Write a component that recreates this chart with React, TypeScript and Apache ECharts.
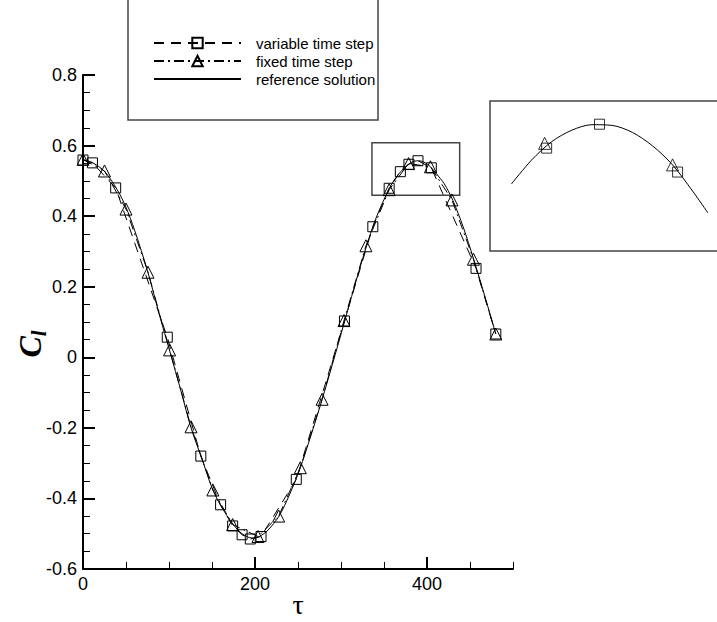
import React, { useEffect, useRef } from 'react';
import * as echarts from 'echarts';

// reference solution (solid line)
const refTau = [0, 10, 25, 40, 50, 60, 75, 90, 100, 115, 125, 140, 150, 160, 175, 185, 196, 205, 215, 228, 240, 252, 265, 278, 290, 304, 315, 329, 340, 356, 364, 368, 372, 376, 380, 384, 388, 392, 396, 400, 404, 408, 411, 420, 430, 442, 454, 467, 480];
const refCl = [0.560, 0.553, 0.527, 0.474, 0.425, 0.360, 0.245, 0.110, 0.025, -0.105, -0.195, -0.300, -0.370, -0.420, -0.475, -0.500, -0.512, -0.508, -0.490, -0.450, -0.390, -0.318, -0.222, -0.120, -0.020, 0.100, 0.195, 0.310, 0.390, 0.478, 0.510, 0.522, 0.532, 0.542, 0.5497, 0.5545, 0.5568, 0.5565, 0.5536, 0.548, 0.540, 0.529, 0.520, 0.492, 0.445, 0.370, 0.280, 0.175, 0.066];

// variable time step (squares, dashed)
const varTau = [0, 11, 38, 98, 137, 160, 174, 185, 194.5, 207, 248, 304, 337, 356, 369, 379, 389.5, 405, 457, 480];
const varCl = [0.559, 0.551, 0.480, 0.057, -0.280, -0.418, -0.478, -0.503, -0.515, -0.508, -0.346, 0.103, 0.370, 0.479, 0.526, 0.547, 0.557, 0.537, 0.252, 0.066];

// fixed time step (triangles, dash-dot)
const fixTau = [0, 25, 50, 75.6, 100.7, 125.6, 151, 174, 203.5, 227.5, 252.7, 278, 303.5, 329, 356, 378.6, 404, 429, 454, 480];
const fixCl = [0.561, 0.528, 0.420, 0.241, 0.021, -0.197, -0.376, -0.474, -0.508, -0.450, -0.313, -0.119, 0.104, 0.316, 0.475, 0.549, 0.540, 0.446, 0.278, 0.066];

const xMajorTicks = [0, 200, 400];
const seriesNames = ['variable time step', 'fixed time step', 'reference solution'];

// zoom window marked on main plot, and the range shown in the inset
const zoomBoxTau = [336, 438];
const zoomBoxCl = [0.459, 0.608];
const insetTauRange = [372, 411];
const insetXExtent = [367.75, 416.6];
const insetYExtent = [0.504, 0.5667];

const zip = (xs: number[], ys: number[]) => xs.map((x, i) => [x, ys[i]]);
const inInset = (p: number[]) => p[0] >= insetTauRange[0] && p[0] <= insetTauRange[1];

const SANS = "'Liberation Sans', Arial, sans-serif";
const SERIF = "'Liberation Serif', 'Times New Roman', serif";

export default function App() {
  const ref = useRef<HTMLDivElement>(null);
  useEffect(() => {
    if (!ref.current) return;
    const chart = echarts.init(ref.current, undefined, { renderer: 'svg' });
    const hollow = { color: 'rgba(0,0,0,0)', borderColor: '#000', borderWidth: 1 };
    const option: any = {
      animation: false,
      textStyle: { fontFamily: SANS, color: '#000' },
      grid: [
        { left: 83, top: 75, width: 430, height: 494, show: false, containLabel: false, outerBoundsMode: 'none' },
        { left: 490, top: 101, width: 246, height: 150, show: true, containLabel: false, outerBoundsMode: 'none', borderColor: '#444', borderWidth: 1.5, backgroundColor: 'rgba(0,0,0,0)' },
      ],
      legend: {
        data: [
          { name: seriesNames[0] },
          { name: seriesNames[1] },
          { name: seriesNames[2], itemStyle: { color: 'rgba(0,0,0,0)', borderWidth: 0, opacity: 0 } },
        ],
        orient: 'vertical',
        left: 153,
        top: 34,
        padding: 0,
        itemGap: 0,
        itemWidth: 87,
        itemHeight: 13,
        textStyle: { fontFamily: SANS, fontSize: 15, lineHeight: 18, color: '#000', padding: [0, 0, 0, 10] },
      },
      graphic: [
        { type: 'rect', shape: { x: 128, y: -10, width: 250, height: 130 }, style: { fill: 'none', stroke: '#444', lineWidth: 1.5 }, silent: true },
      ],
      xAxis: [
        {
          gridIndex: 0, type: 'value', min: 0, max: 500, interval: 50,
          axisLine: { show: true, onZero: false, lineStyle: { color: '#000', width: 2 } },
          axisTick: { show: true, inside: true, length: 7, lineStyle: { color: '#000', width: 1 } },
          axisLabel: { show: false },
          splitLine: { show: false },
        },
        {
          gridIndex: 0, type: 'value', position: 'bottom', min: 0, max: 500, interval: 200,
          axisLine: { show: false, onZero: false },
          axisTick: { show: true, inside: true, length: 12, customValues: xMajorTicks, lineStyle: { color: '#000', width: 2 } },
          axisLabel: { show: true, customValues: xMajorTicks, fontSize: 18, margin: 6, color: '#000', fontFamily: SANS },
          splitLine: { show: false },
          name: 'τ', nameLocation: 'middle', nameGap: 20, nameMoveOverlap: false,
          nameTextStyle: { fontFamily: SERIF, fontSize: 28, lineHeight: 30, color: '#000' },
        },
        { gridIndex: 1, type: 'value', min: insetXExtent[0], max: insetXExtent[1], show: false, splitLine: { show: false } },
      ],
      yAxis: [
        {
          gridIndex: 0, type: 'value', min: -0.6, max: 0.8, interval: 0.2,
          axisLine: { show: true, onZero: false, lineStyle: { color: '#000', width: 2 } },
          axisTick: { show: true, inside: true, length: 12, lineStyle: { color: '#000', width: 2 } },
          minorTick: { show: true, splitNumber: 4, length: 7, lineStyle: { color: '#000', width: 1 } },
          axisLabel: { fontSize: 18, margin: 6, color: '#000', fontFamily: SANS },
          splitLine: { show: false },
          name: '{c|C}{l|l}', nameLocation: 'middle', nameGap: 34, nameRotate: 90, nameMoveOverlap: false,
          nameTextStyle: {
            padding: [0, 44, 0, 0],
            rich: {
              c: { fontFamily: SERIF, fontStyle: 'italic', fontWeight: 'bold', fontSize: 32, lineHeight: 38, color: '#000', verticalAlign: 'middle' },
              l: { fontFamily: SERIF, fontStyle: 'italic', fontWeight: 'bold', fontSize: 21, lineHeight: 38, color: '#000', verticalAlign: 'bottom', padding: [14, 0, 0, 0] },
            },
          },
        },
        { gridIndex: 1, type: 'value', min: insetYExtent[0], max: insetYExtent[1], show: false, splitLine: { show: false } },
      ],
      series: [
        {
          name: seriesNames[2], type: 'line', xAxisIndex: 0, yAxisIndex: 0,
          data: zip(refTau, refCl), symbol: 'none', showSymbol: false, smooth: 0.3,
          lineStyle: { color: '#000', width: 1 }, itemStyle: { color: '#000' }, z: 2,
          markArea: {
            silent: true,
            label: { show: false },
            itemStyle: { color: 'rgba(0,0,0,0)', borderColor: '#444', borderWidth: 1.5 },
            data: [[{ coord: [zoomBoxTau[0], zoomBoxCl[1]] }, { coord: [zoomBoxTau[1], zoomBoxCl[0]] }]],
          },
        },
        {
          name: seriesNames[0], type: 'line', xAxisIndex: 0, yAxisIndex: 0,
          data: zip(varTau, varCl), symbol: 'rect', symbolSize: 10, showSymbol: true,
          lineStyle: { color: '#000', width: 1, type: [10, 7] }, itemStyle: hollow, z: 3,
        },
        {
          name: seriesNames[1], type: 'line', xAxisIndex: 0, yAxisIndex: 0,
          data: zip(fixTau, fixCl), symbol: 'triangle', symbolSize: 12, showSymbol: true,
          lineStyle: { color: '#000', width: 1, type: [10, 4, 2, 4] }, itemStyle: hollow, z: 3,
        },
        {
          name: 'inset reference', type: 'line', xAxisIndex: 2, yAxisIndex: 1,
          data: zip(refTau, refCl).filter(inInset), symbol: 'none', showSymbol: false, smooth: 0.3,
          lineStyle: { color: '#000', width: 1 },
        },
        {
          name: 'inset variable', type: 'scatter', xAxisIndex: 2, yAxisIndex: 1,
          data: zip(varTau, varCl).filter(inInset), symbol: 'rect', symbolSize: 10, itemStyle: hollow,
        },
        {
          name: 'inset fixed', type: 'scatter', xAxisIndex: 2, yAxisIndex: 1,
          data: zip(fixTau, fixCl).filter(inInset), symbol: 'triangle', symbolSize: 12, itemStyle: hollow,
        },
      ],
    };
    chart.setOption(option);
    return () => chart.dispose();
  }, []);
  return <div ref={ref} style={{ position: 'fixed', left: 0, top: 0, width: 717, height: 622, background: '#fff' }} />;
}
